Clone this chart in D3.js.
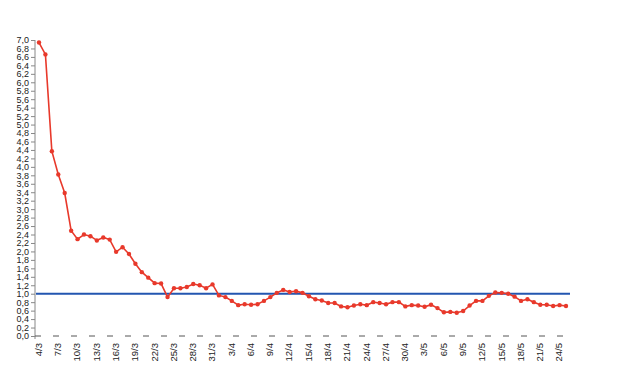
<!DOCTYPE html>
<html>
<head>
<meta charset="utf-8">
<script src="https://cdn.jsdelivr.net/npm/d3@7"></script>
<style>
  html, body { margin: 0; padding: 0; background: #fff; }
  svg { display: block; }
  text { font-family: "Liberation Sans", Arial, sans-serif; }
</style>
</head>
<body>
<svg id="chart" width="620" height="372"></svg>
<script>
const dates = [
  "4/3","5/3","6/3","7/3","8/3","9/3","10/3","11/3","12/3","13/3","14/3","15/3","16/3","17/3","18/3","19/3",
  "20/3","21/3","22/3","23/3","24/3","25/3","26/3","27/3","28/3","29/3","30/3","31/3",
  "1/4","2/4","3/4","4/4","5/4","6/4","7/4","8/4","9/4","10/4","11/4","12/4","13/4","14/4","15/4","16/4",
  "17/4","18/4","19/4","20/4","21/4","22/4","23/4","24/4","25/4","26/4","27/4","28/4","29/4","30/4",
  "1/5","2/5","3/5","4/5","5/5","6/5","7/5","8/5","9/5","10/5","11/5","12/5","13/5","14/5","15/5","16/5",
  "17/5","18/5","19/5","20/5","21/5","22/5","23/5","24/5","25/5"
];
const values = [
  6.94, 6.66, 4.37, 3.82, 3.38, 2.49, 2.29, 2.40, 2.36, 2.26, 2.33, 2.28, 1.99, 2.10, 1.94, 1.71,
  1.51, 1.38, 1.25, 1.24, 0.92, 1.13, 1.13, 1.16, 1.23, 1.20, 1.13, 1.22,
  0.96, 0.92, 0.83, 0.73, 0.75, 0.74, 0.75, 0.83, 0.92, 1.02, 1.09, 1.04, 1.06, 1.02, 0.94, 0.87,
  0.84, 0.78, 0.78, 0.70, 0.68, 0.72, 0.75, 0.73, 0.80, 0.78, 0.75, 0.80, 0.80, 0.70,
  0.73, 0.72, 0.69, 0.74, 0.66, 0.56, 0.57, 0.55, 0.59, 0.72, 0.83, 0.83, 0.95, 1.03, 1.02, 1.00,
  0.93, 0.83, 0.87, 0.80, 0.74, 0.74, 0.71, 0.73, 0.71
];
const referenceValue = [1.0];
const xTickLabels = ["4/3","7/3","10/3","13/3","16/3","19/3","22/3","25/3","28/3","31/3",
  "3/4","6/4","9/4","12/4","15/4","18/4","21/4","24/4","27/4","30/4",
  "3/5","6/5","9/5","12/5","15/5","18/5","21/5","24/5"];
const yTicks = [0.0,0.2,0.4,0.6,0.8,1.0,1.2,1.4,1.6,1.8,2.0,2.2,2.4,2.6,2.8,3.0,3.2,3.4,3.6,3.8,
  4.0,4.2,4.4,4.6,4.8,5.0,5.2,5.4,5.6,5.8,6.0,6.2,6.4,6.6,6.8,7.0];

const svg = d3.select("#chart");
const axisX = 35;
const x = d3.scalePoint().domain(dates).range([39, 566]);
const y = d3.scaleLinear().domain([0, 7]).range([336, 40]);
const fmt = v => d3.format(".1f")(v).replace(".", ",");

// Y axis
const gy = svg.append("g")
  .attr("transform", `translate(${axisX},0)`)
  .call(d3.axisLeft(y).tickValues(yTicks).tickFormat(fmt).tickSize(4).tickPadding(2).tickSizeOuter(0));
gy.select(".domain").attr("stroke", "#888").attr("d", `M0,${y(7)}V${y(0) + 3}`);
gy.selectAll(".tick line").attr("stroke", "#888");
gy.selectAll(".tick text").attr("fill", "#222").style("font-size", "9px");

// X axis (dashed baseline + rotated labels)
svg.append("line")
  .attr("x1", axisX).attr("x2", 572)
  .attr("y1", y(0)).attr("y2", y(0))
  .attr("stroke", "#555").attr("stroke-width", 1)
  .attr("stroke-dasharray", "6,12");

const gx = svg.append("g")
  .attr("transform", `translate(0,${y(0)})`)
  .call(d3.axisBottom(x).tickValues(xTickLabels).tickSize(0).tickPadding(0));
gx.select(".domain").remove();
gx.selectAll(".tick text")
  .attr("transform", "rotate(-90)")
  .attr("x", -7).attr("y", -1).attr("dy", "0.35em")
  .style("text-anchor", "end")
  .style("font-size", "9.5px")
  .attr("fill", "#222");

// Reference line at 1.0
svg.selectAll(".ref").data(referenceValue).enter().append("line")
  .attr("class", "ref")
  .attr("x1", axisX + 1).attr("x2", 570)
  .attr("y1", d => y(d)).attr("y2", d => y(d))
  .attr("stroke", "#2356b0").attr("stroke-width", 2);

// Series line
const data = dates.map((d, i) => ({ d, v: values[i] }));
svg.append("path")
  .datum(data)
  .attr("fill", "none")
  .attr("stroke", "#e8392b")
  .attr("stroke-width", 1.6)
  .attr("d", d3.line().x(p => x(p.d)).y(p => y(p.v)));

svg.selectAll(".pt").data(data).enter().append("circle")
  .attr("class", "pt")
  .attr("cx", p => x(p.d)).attr("cy", p => y(p.v))
  .attr("r", 2.2)
  .attr("fill", "#e8392b");
</script>
</body>
</html>
